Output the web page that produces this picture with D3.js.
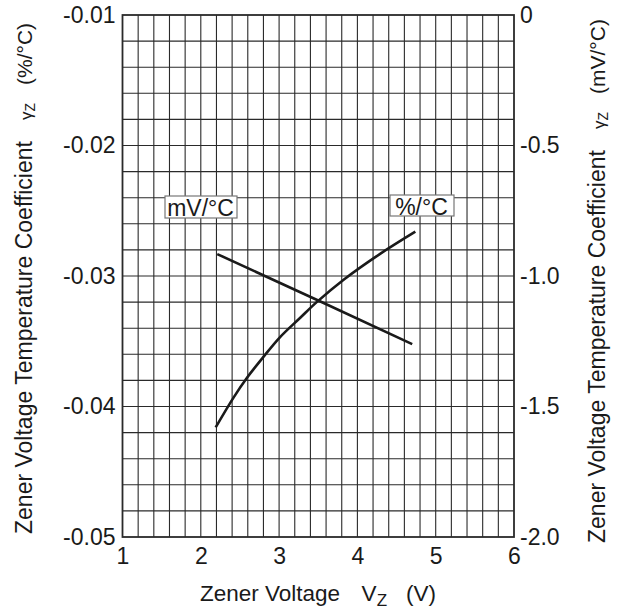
<!DOCTYPE html>
<html>
<head>
<meta charset="utf-8">
<script src="https://cdn.jsdelivr.net/npm/d3@7"></script>
<style>
  html, body { margin: 0; padding: 0; background: #fff; }
  svg { display: block; }
  text { font-family: "Liberation Sans", Arial, sans-serif; fill: #1a1a1a; }
</style>
</head>
<body>
<script>
// ---- data ----
const xTicks = [1, 2, 3, 4, 5, 6];
const leftTicks = [-0.05, -0.04, -0.03, -0.02, -0.01];
const rightTicks = [-2.0, -1.5, -1.0, -0.5, 0];

// %/°C curve (left axis)
const vzPct = [2.19, 2.42, 2.59, 2.80, 3.01, 3.27, 3.48, 3.82, 4.29, 4.74];
const pctVals = [-0.0416, -0.0393, -0.0378, -0.0362, -0.0347, -0.0332, -0.0320, -0.0303, -0.0283, -0.0266];

// mV/°C line (right axis)
const vzMv = [2.21, 3.50, 4.70];
const mvVals = [-0.916, -1.094, -1.261];

// ---- layout ----
const W = 623, H = 615;
const L = 122.5, R = 514, T = 15, B = 537;
const FONT = '"Liberation Sans", Arial, sans-serif';

const svg = d3.select("body").append("svg").attr("width", W).attr("height", H);

const x = d3.scaleLinear().domain([1, 6]).range([L, R]);
const yL = d3.scaleLinear().domain([-0.05, -0.01]).range([B, T]);
const yR = d3.scaleLinear().domain([-2, 0]).range([B, T]);

// grid
const g = svg.append("g");
const vLines = d3.range(1, 25).map(i => 1 + i * 0.2);
const hLines = d3.range(1, 20).map(i => -0.05 + i * 0.002);
g.selectAll(".vl").data(vLines).enter().append("line")
  .attr("x1", d => x(d)).attr("x2", d => x(d))
  .attr("y1", T).attr("y2", B)
  .attr("stroke", "#2a2a2a").attr("stroke-width", 1.1);
g.selectAll(".hl").data(hLines).enter().append("line")
  .attr("x1", L).attr("x2", R)
  .attr("y1", d => yL(d)).attr("y2", d => yL(d))
  .attr("stroke", "#2a2a2a").attr("stroke-width", 1.1);

// border
svg.append("rect").attr("x", L).attr("y", T).attr("width", R - L).attr("height", B - T)
  .attr("fill", "none").attr("stroke", "#2a2a2a").attr("stroke-width", 1.8);

// axes
const fs = "23px";
const ax = svg.append("g").attr("transform", `translate(0,${B})`)
  .call(d3.axisBottom(x).tickValues(xTicks).tickSize(0).tickPadding(11).tickFormat(d3.format("d")));
const al = svg.append("g").attr("transform", `translate(${L},0)`)
  .call(d3.axisLeft(yL).tickValues(leftTicks).tickSize(0).tickPadding(7).tickFormat(d => d.toFixed(2)));
const ar = svg.append("g").attr("transform", `translate(${R},0)`)
  .call(d3.axisRight(yR).tickValues(rightTicks).tickSize(0).tickPadding(6).tickFormat(d => d === 0 ? "0" : d.toFixed(1)));
[ax, al, ar].forEach(a => {
  a.select(".domain").remove();
  a.selectAll("text").style("font-size", fs).style("font-family", FONT).attr("fill", "#1a1a1a");
});

// curves
svg.append("path")
  .datum(vzPct.map((v, i) => [v, pctVals[i]]))
  .attr("fill", "none").attr("stroke", "#1a1a1a").attr("stroke-width", 2.6)
  .attr("d", d3.line().x(d => x(d[0])).y(d => yL(d[1])).curve(d3.curveCatmullRom));

svg.append("path")
  .datum(vzMv.map((v, i) => [v, mvVals[i]]))
  .attr("fill", "none").attr("stroke", "#1a1a1a").attr("stroke-width", 2.6)
  .attr("d", d3.line().x(d => x(d[0])).y(d => yR(d[1])));

// labels in boxes
function boxLabel(txt, cx, baseline, bx0, bx1, by0, by1) {
  svg.append("rect")
    .attr("x", bx0).attr("y", by0).attr("width", bx1 - bx0).attr("height", by1 - by0)
    .attr("fill", "#fff").attr("stroke", "#777").attr("stroke-width", 1.2);
  svg.append("text").attr("x", cx).attr("y", baseline)
    .attr("text-anchor", "middle").style("font-size", "23px").text(txt);
}
boxLabel("mV/°C", 200.5, 216, 165, 237, 196, 218);
boxLabel("%/°C", 421.5, 215, 390, 454, 195, 216);

// x axis title
const xt = svg.append("text").attr("x", 200).attr("y", 601)
  .attr("text-anchor", "start").style("font-size", "22.5px");
xt.append("tspan").text("Zener Voltage");
xt.append("tspan").attr("dx", 21.5).text("V");
xt.append("tspan").attr("dy", 5).attr("dx", 0).style("font-size", "17px").text("Z");
xt.append("tspan").attr("dy", -5).attr("dx", 19).text("(V)");

// y axis titles
function yTitle(xpos, ystart, unit) {
  const t = svg.append("text")
    .attr("transform", `translate(${xpos},${ystart}) rotate(-90)`)
    .attr("text-anchor", "start").style("font-size", "23px");
  t.append("tspan").text("Zener Voltage Temperature Coefficient");
  t.append("tspan").attr("dx", 21).style("font-size", "17px").text("γ");
  t.append("tspan").attr("dy", 3).style("font-size", "14px").text("Z");
  t.append("tspan").attr("dy", -3).attr("dx", 18).style("font-size", "21px").text(unit);
}
yTitle(31.5, 534, "(%/°C)");
yTitle(604.5, 543, "(mV/°C)");
</script>
</body>
</html>
